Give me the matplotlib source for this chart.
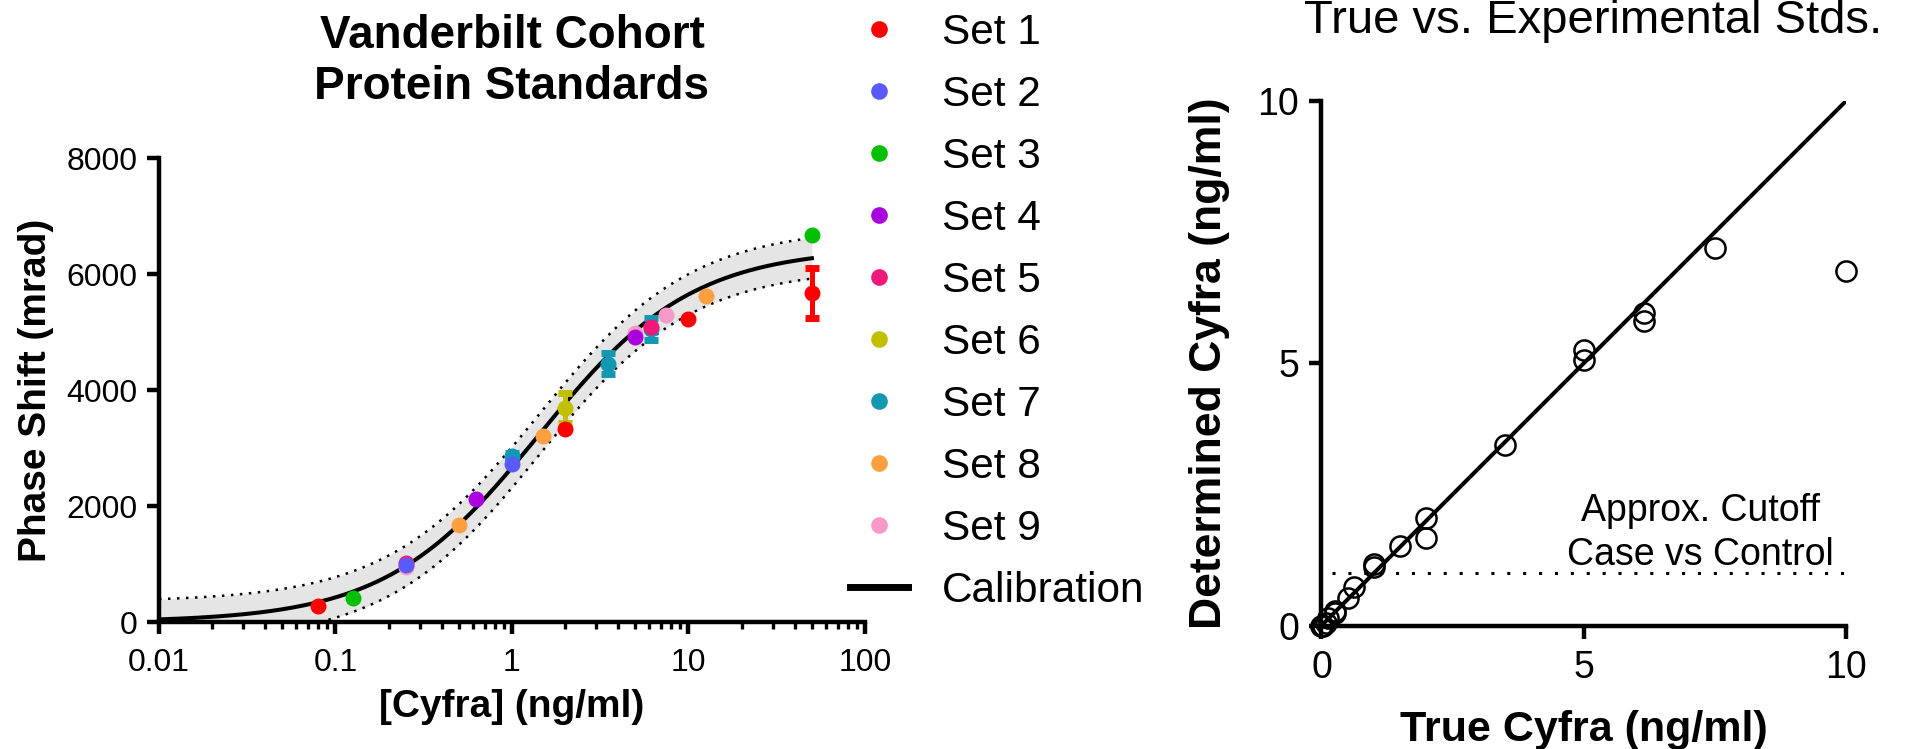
import numpy as np
import matplotlib
matplotlib.use("Agg")
import matplotlib.pyplot as plt
from matplotlib.lines import Line2D
from matplotlib.ticker import FixedLocator, LogLocator, NullFormatter

plt.rcParams['font.family'] = ['Liberation Sans', 'DejaVu Sans']

W, H, DPI = 1906, 749, 100

# ---- Protein standards: concentration (ng/ml), phase shift (mrad), SD ----
set_labels = ["Set 1", "Set 2", "Set 3", "Set 4", "Set 5",
              "Set 6", "Set 7", "Set 8", "Set 9"]
set_colors = ["#ff0000", "#5a5afa", "#00c000", "#aa00dd", "#f01878",
              "#c0c000", "#1298b2", "#ffa040", "#f79ac8"]

conc_set1 = [0.08, 2, 10, 50]
shift_set1 = [280, 3320, 5230, 5670]
sd_set1 = [0, 0, 0, 430]

conc_set2 = [0.25, 1]
shift_set2 = [980, 2720]
sd_set2 = [0, 0]

conc_set3 = [0.125, 50]
shift_set3 = [410, 6670]
sd_set3 = [0, 0]

conc_set4 = [0.625, 5]
shift_set4 = [2120, 4920]
sd_set4 = [0, 0]

conc_set5 = [0.25, 6.15]
shift_set5 = [1020, 5090]
sd_set5 = [0, 0]

conc_set6 = [2]
shift_set6 = [3690]
sd_set6 = [260]

conc_set7 = [1, 3.5, 6.15]
shift_set7 = [2860, 4450, 5060]
sd_set7 = [50, 180, 190]

conc_set8 = [0.5, 1.5, 12.5]
shift_set8 = [1670, 3210, 5620]
sd_set8 = [0, 0, 0]

conc_set9 = [0.25, 5, 7.5]
shift_set9 = [940, 4990, 5290]
sd_set9 = [0, 0, 0]

standards = [
    (conc_set1, shift_set1, sd_set1),
    (conc_set2, shift_set2, sd_set2),
    (conc_set3, shift_set3, sd_set3),
    (conc_set4, shift_set4, sd_set4),
    (conc_set5, shift_set5, sd_set5),
    (conc_set6, shift_set6, sd_set6),
    (conc_set7, shift_set7, sd_set7),
    (conc_set8, shift_set8, sd_set8),
    (conc_set9, shift_set9, sd_set9),
]

# Four-parameter logistic calibration fit and its confidence band
cal_bottom = 0.0
cal_top = 6450.0
cal_ec50 = 1.42
cal_hill = 1.0
cal_band = 350.0
cal_range = (0.01, 50)

x_ticks_left = [0.01, 0.1, 1, 10, 100]
x_ticklabels_left = ['0.01', '0.1', '1', '10', '100']
y_ticks_left = [0, 2000, 4000, 6000, 8000]

# ---- True vs determined concentrations of the standards (ng/ml) ----
true_cyfra = [0, 0.03, 0.08, 0.125, 0.25, 0.25, 0.5, 0.625, 1, 1,
              1.5, 2, 2, 3.5, 5, 5, 6.15, 6.15, 7.5, 10]
determined_cyfra = [0, 0.0, 0.05, 0.14, 0.23, 0.27, 0.53, 0.73, 1.18, 1.12,
                    1.52, 2.05, 1.67, 3.44, 5.25, 5.07, 5.95, 5.81, 7.2, 6.75]
identity_x = [0, 10]
cutoff_level = 1.0
cutoff_span = [0.2, 10]
ticks_right = [0, 5, 10]


def four_pl(x):
    return cal_bottom + (cal_top - cal_bottom) / (1 + (cal_ec50 / x) ** cal_hill)


fig = plt.figure(figsize=(W / DPI, H / DPI), dpi=DPI)

# ================= Calibration panel =================
axL = fig.add_axes([159 / W, 1 - 622 / H, 706 / W, 464 / H])
axL.set_xscale('log')

xc = np.logspace(np.log10(cal_range[0]), np.log10(cal_range[1]), 500)
yc = four_pl(xc)
axL.fill_between(xc, yc - cal_band, yc + cal_band, color='#e5e5e5', lw=0, zorder=1)
for sgn in (-1, 1):
    axL.plot(xc, yc + sgn * cal_band, color='k', lw=1.8,
             ls=(0, (1, 2.6)), zorder=2)
axL.plot(xc, yc, color='k', lw=2.9, zorder=3)

n_sets = len(standards)
for i, (cx, cy, sd) in enumerate(standards):
    z = 10 + (n_sets - i) * 2
    col = set_colors[i]
    cx = np.asarray(cx, float)
    cy = np.asarray(cy, float)
    sd = np.asarray(sd, float)
    has_err = sd > 0
    if has_err.any():
        axL.errorbar(cx[has_err], cy[has_err], yerr=sd[has_err], fmt='none',
                     ecolor=col, elinewidth=3.6, capsize=5, capthick=5,
                     zorder=z - 1, clip_on=False)
    axL.plot(cx, cy, 'o', color=col, ms=11.5, mec='none', zorder=z,
             clip_on=False)

axL.set_xlim(0.01, 100)
axL.set_ylim(0, 8000)
axL.xaxis.set_major_locator(FixedLocator(x_ticks_left))
axL.set_xticklabels(x_ticklabels_left, fontsize=23)
axL.xaxis.set_minor_locator(LogLocator(base=10, subs=np.arange(2, 10)))
axL.xaxis.set_minor_formatter(NullFormatter())
axL.set_yticks(y_ticks_left)
axL.set_yticklabels([str(v) for v in y_ticks_left], fontsize=23)
for s in ('top', 'right'):
    axL.spines[s].set_visible(False)
for s in ('left', 'bottom'):
    axL.spines[s].set_linewidth(3.2)
axL.tick_params(axis='both', which='major', direction='out', length=8.6,
                width=3.2, labelsize=23, pad=7)
axL.tick_params(axis='x', which='minor', direction='out', length=5,
                width=2.4)
axL.tick_params(axis='x', which='major', pad=10)
axL.set_xlabel('[Cyfra] (ng/ml)', fontsize=28, fontweight='bold', labelpad=8)
axL.set_ylabel('Phase Shift (mrad)', fontsize=28, fontweight='bold')
axL.yaxis.set_label_coords(-0.149, 0.5)

fig.text(512 / W, 1 - 14 / H, 'Vanderbilt Cohort\nProtein Standards',
         ha='center', va='top', fontsize=33, fontweight='bold', linespacing=1.2)

handles = [Line2D([], [], marker='o', ls='none', color=c, ms=12, mec='none')
           for c in set_colors]
handles.append(Line2D([], [], color='k', lw=5))
fig.legend(handles, set_labels + ['Calibration'], loc='upper left',
           bbox_to_anchor=(850 / W, 1 - 13 / H), frameon=False, fontsize=30.5,
           handlelength=1.37, handletextpad=0.8, labelspacing=0.52,
           borderpad=0, borderaxespad=0)

# ================= Accuracy panel =================
axR = fig.add_axes([1321.5 / W, 1 - 625.5 / H, 524.5 / W, 524.5 / H])
axR.plot(identity_x, identity_x, color='k', lw=2.9, zorder=2)
axR.plot(cutoff_span, [cutoff_level, cutoff_level], color='k', lw=2.2,
         ls=(0, (1, 4.2)), zorder=2)
axR.plot(true_cyfra, determined_cyfra, 'o', mfc='none', mec='k', ms=14.5,
         mew=1.8, zorder=3, clip_on=False)
axR.text(7.22, 2.0, 'Approx. Cutoff', ha='center', va='baseline', fontsize=27)
axR.text(7.22, 1.15, 'Case vs Control', ha='center', va='baseline', fontsize=27)

axR.set_xlim(0, 10)
axR.set_ylim(0, 10)
axR.set_xticks(ticks_right)
axR.set_yticks(ticks_right)
for s in ('top', 'right'):
    axR.spines[s].set_visible(False)
for s in ('left', 'bottom'):
    axR.spines[s].set_linewidth(3.2)
axR.tick_params(axis='both', which='major', direction='out', length=9,
                width=3.2, labelsize=27, pad=7)
axR.tick_params(axis='x', which='major', pad=9)
axR.set_xlabel('True Cyfra (ng/ml)', fontsize=31, fontweight='bold', labelpad=17)
axR.set_ylabel('Determined Cyfra (ng/ml)', fontsize=32, fontweight='bold')
axR.yaxis.set_label_coords(-0.175, 0.5)

fig.text(1593 / W, 1 - 33 / H, 'True vs. Experimental Stds.', ha='center',
         va='baseline', fontsize=34)

fig.savefig('out.png', dpi=DPI)
